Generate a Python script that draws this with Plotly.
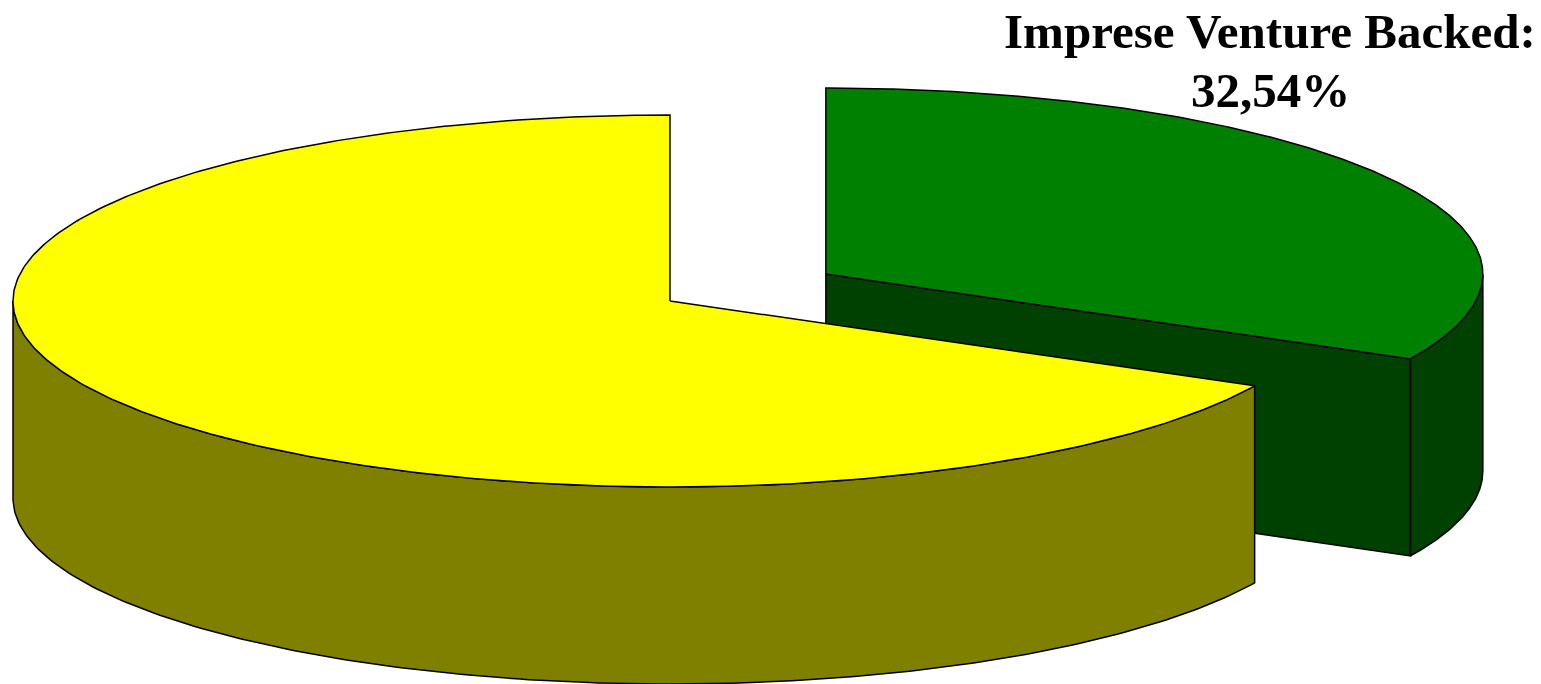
import numpy as np
import plotly.graph_objects as go

# ---- data ----
labels = ["Imprese Venture Backed", "Altre Imprese"]
values = [32.54, 67.46]
top_colors = ["#008000", "#FFFF00"]
side_colors = ["#004000", "#808000"]
pull = [0.278, 0.0]
show_label = [True, False]

# ---- geometry (layout constants, pixels) ----
W, H = 1541, 684
CX, CY = 670, 301
RX, RY = 657, 186
DEPTH = 197
START = 90.0  # first slice starts at 12 o'clock, goes clockwise

fig = go.Figure()


def pt(cx, cy, t_deg):
    t = np.radians(t_deg)
    return cx + RX * np.cos(t), cy - RY * np.sin(t)


def add_poly(xs, ys, color):
    xs = list(xs) + [xs[0]]
    ys = list(ys) + [ys[0]]
    fig.add_trace(go.Scatter(x=xs, y=ys, mode="lines", fill="toself",
                             fillcolor=color, line=dict(color="black", width=1.5),
                             hoverinfo="skip", showlegend=False))


total = float(sum(values))
slices = []
a = START
for i, v in enumerate(values):
    sweep = v / total * 360.0
    a_start, a_end = a, a - sweep
    mid = (a_start + a_end) / 2
    ox = pull[i] * RX * np.cos(np.radians(mid))
    oy = -pull[i] * RY * np.sin(np.radians(mid))
    slices.append((i, a_start, a_end, CX + ox, CY + oy))
    a = a_end

# painter's order: farther (smaller screen y center) first
for i, a_start, a_end, cx, cy in sorted(slices, key=lambda s: s[4]):
    # radial faces
    for ang, visible in ((a_end, np.cos(np.radians(a_end)) > 1e-6),
                         (a_start, np.cos(np.radians(a_start)) < -1e-6)):
        if visible:
            rx_, ry_ = pt(cx, cy, ang)
            add_poly([cx, rx_, rx_, cx], [cy, ry_, ry_ + DEPTH, cy + DEPTH], side_colors[i])
    # outer side (front half: sin < 0)
    for k in range(-2, 2):
        lo = max(a_end, -180 + 360 * k)
        hi = min(a_start, 0 + 360 * k)
        if hi > lo:
            ts = np.linspace(lo, hi, 200)
            xt, yt = pt(cx, cy, ts)
            xs = np.concatenate([xt, xt[::-1]])
            ys = np.concatenate([yt, (yt + DEPTH)[::-1]])
            add_poly(xs, ys, side_colors[i])
    # top face
    ts = np.linspace(a_start, a_end, 400)
    xt, yt = pt(cx, cy, ts)
    add_poly(np.concatenate([[cx], xt]), np.concatenate([[cy], yt]), top_colors[i])

label_font = dict(family="Liberation Serif, Times New Roman, serif", size=49, color="black")
for i, v in enumerate(values):
    if show_label[i]:
        lines = [f"{labels[i]}:", f"{v:.2f}%".replace(".", ",")]
        for j, line in enumerate(lines):
            fig.add_annotation(x=1270, y=31 + 59 * j, text=f"<b>{line}</b>", showarrow=False,
                               font=label_font, xanchor="center", yanchor="middle",
                               align="center")

fig.update_layout(
    width=W, height=H, margin=dict(l=0, r=0, t=0, b=0),
    paper_bgcolor="white", plot_bgcolor="white",
    xaxis=dict(range=[0, W], visible=False, fixedrange=True),
    yaxis=dict(range=[H, 0], visible=False, fixedrange=True),
    showlegend=False,
)

fig.write_html("out.html", post_script="document.body.style.margin='0';",
               config={"displayModeBar": False})
